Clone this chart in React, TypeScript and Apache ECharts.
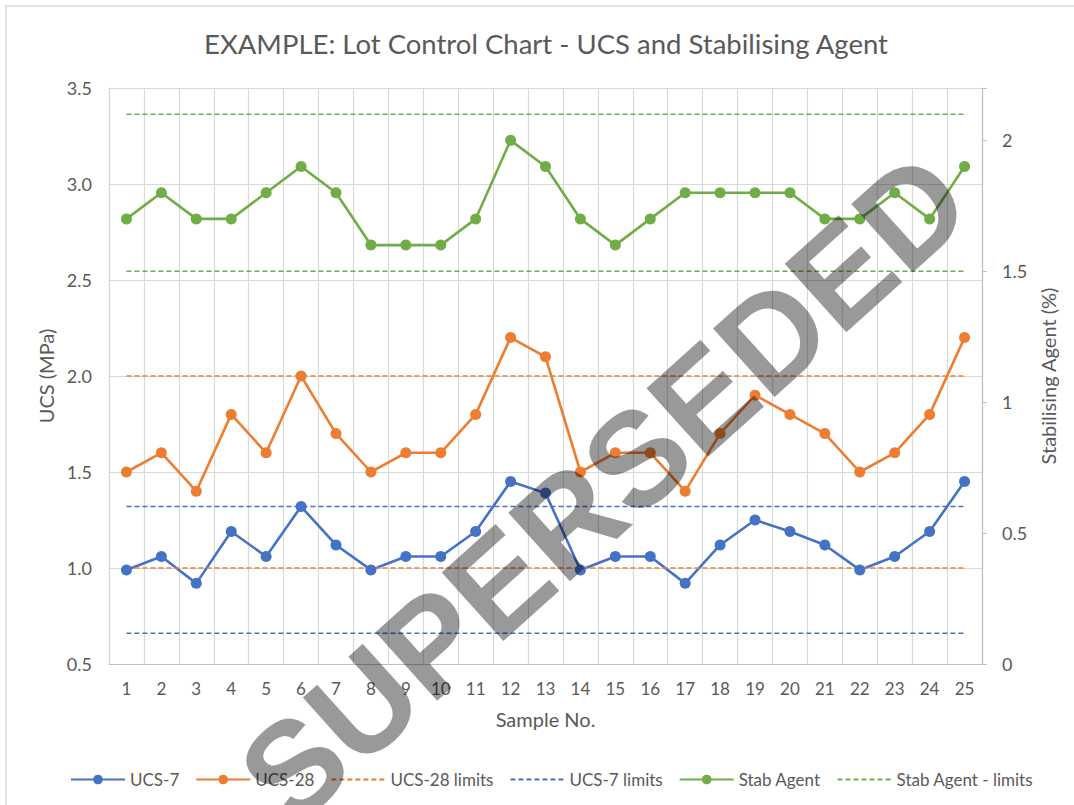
import React, { useEffect, useRef } from 'react';
import * as echarts from 'echarts';

const samples = ['1', '2', '3', '4', '5', '6', '7', '8', '9', '10', '11', '12', '13', '14', '15', '16', '17', '18', '19', '20', '21', '22', '23', '24', '25'];
const ucs7 = [0.99, 1.06, 0.92, 1.19, 1.06, 1.32, 1.12, 0.99, 1.06, 1.06, 1.19, 1.45, 1.39, 0.99, 1.06, 1.06, 0.92, 1.12, 1.25, 1.19, 1.12, 0.99, 1.06, 1.19, 1.45];
const ucs28 = [1.5, 1.6, 1.4, 1.8, 1.6, 2.0, 1.7, 1.5, 1.6, 1.6, 1.8, 2.2, 2.1, 1.5, 1.6, 1.6, 1.4, 1.7, 1.9, 1.8, 1.7, 1.5, 1.6, 1.8, 2.2];
const stabAgent = [1.7, 1.8, 1.7, 1.7, 1.8, 1.9, 1.8, 1.6, 1.6, 1.6, 1.7, 2.0, 1.9, 1.7, 1.6, 1.7, 1.8, 1.8, 1.8, 1.8, 1.7, 1.7, 1.8, 1.7, 1.9];
const ucs28Limits = [1.0, 2.0];
const ucs7Limits = [0.66, 1.32];
const stabLimits = [1.5, 2.1];
const legendNames = ['UCS-7', 'UCS-28', 'UCS-28 limits', 'UCS-7 limits', 'Stab Agent', 'Stab Agent - limits'];
const limitNames = ['UCS-28 limits', 'UCS-7 limits', 'Stab Agent - limits'];

const BLUE = '#4472C4';
const ORANGE = '#ED7D31';
const GREEN = '#70AD47';
const TEXT = '#595959';
const GRID = '#D9D9D9';
const FONT = 'Lato, "Open Sans", sans-serif';

function limitSeries(name: string, values: number[], color: string, yAxisIndex: number) {
  return values.map((v) => ({
    name,
    type: 'line',
    yAxisIndex,
    data: samples.map(() => v),
    symbol: 'none',
    silent: true,
    lineStyle: { color, width: 1.6, type: [5, 3] },
    itemStyle: { color },
  }));
}

function mainSeries(name: string, values: number[], color: string, yAxisIndex: number) {
  return {
    name,
    type: 'line',
    yAxisIndex,
    data: values,
    symbol: 'circle',
    symbolSize: 11,
    lineStyle: { color, width: 2.6 },
    itemStyle: { color },
  };
}

export default function App() {
  const ref = useRef<HTMLDivElement>(null);
  useEffect(() => {
    if (!ref.current) return;
    const chart = echarts.init(ref.current, undefined, { renderer: 'svg' });
    chart.setOption({
      animation: false,
      backgroundColor: '#ffffff',
      title: {
        text: 'EXAMPLE: Lot Control Chart - UCS and Stabilising Agent',
        left: 204,
        top: 29,
        padding: 0,
        textStyle: { color: TEXT, fontFamily: FONT, fontSize: 27.5, fontWeight: 'normal' },
      },
      legend: {
        bottom: 12,
        left: 65,
        itemWidth: 54,
        itemHeight: 12,
        itemGap: 16,
        data: legendNames.map((n) =>
          limitNames.indexOf(n) >= 0 ? { name: n, itemStyle: { opacity: 0 } } : { name: n }
        ),
        textStyle: { color: TEXT, fontFamily: FONT, fontSize: 17 },
      },
      grid: { left: 109, right: 92, top: 88, bottom: 141, containLabel: false },
      xAxis: {
        type: 'category',
        data: samples,
        boundaryGap: true,
        name: 'Sample No.',
        nameLocation: 'middle',
        nameGap: 45,
        nameTextStyle: { color: TEXT, fontFamily: FONT, fontSize: 20 },
        axisLine: { show: true, lineStyle: { color: '#BFBFBF', width: 1.2 } },
        axisTick: { show: false },
        axisLabel: { color: TEXT, fontFamily: FONT, fontSize: 17, margin: 16, interval: 0 },
        splitLine: { show: true, lineStyle: { color: GRID, width: 1.2 } },
      },
      yAxis: [
        {
          type: 'value',
          min: 0.5,
          max: 3.5,
          interval: 0.5,
          name: 'UCS (MPa)',
          nameLocation: 'middle',
          nameGap: 52,
          nameTextStyle: { color: TEXT, fontFamily: FONT, fontSize: 20 },
          axisLine: { show: true, lineStyle: { color: GRID, width: 1.2 } },
          axisTick: { show: false },
          axisLabel: {
            color: TEXT,
            fontFamily: FONT,
            fontSize: 18,
            margin: 17,
            formatter: (v: number) => v.toFixed(1),
          },
          splitLine: { show: true, lineStyle: { color: GRID, width: 1.2 } },
        },
        {
          type: 'value',
          position: 'right',
          min: 0,
          max: 2.2,
          interval: 0.5,
          name: 'Stabilising Agent (%)',
          nameLocation: 'middle',
          nameGap: 53,
          nameTextStyle: { color: TEXT, fontFamily: FONT, fontSize: 20 },
          axisLine: { show: true, lineStyle: { color: '#BFBFBF', width: 1.2 } },
          axisTick: { show: true, length: 5, lineStyle: { color: '#BFBFBF' } },
          axisLabel: {
            color: TEXT,
            fontFamily: FONT,
            fontSize: 18,
            margin: 20,
            formatter: (v: number) => (Math.abs(v * 2 - Math.round(v * 2)) < 1e-9 ? String(v) : ''),
          },
          splitLine: { show: false },
        },
      ],
      series: [
        mainSeries('UCS-7', ucs7, BLUE, 0),
        mainSeries('UCS-28', ucs28, ORANGE, 0),
        ...limitSeries('UCS-28 limits', ucs28Limits, ORANGE, 0),
        ...limitSeries('UCS-7 limits', ucs7Limits, BLUE, 0),
        mainSeries('Stab Agent', stabAgent, GREEN, 1),
        ...limitSeries('Stab Agent - limits', stabLimits, GREEN, 1),
      ],
      graphic: [
        {
          type: 'rect',
          z: 0,
          silent: true,
          shape: { x: 6, y: 6, width: 1100, height: 850 },
          style: { fill: 'none', stroke: GRID, lineWidth: 1.5 },
        },
        {
          type: 'text',
          z: 100,
          silent: true,
          x: 604,
          y: 488,
          rotation: (42 * Math.PI) / 180,
          style: {
            text: 'SUPERSEDED',
            font: 'bold 134px "Liberation Sans", Arial, sans-serif',
            fill: 'rgba(0,0,0,0.4)',
            align: 'center',
            verticalAlign: 'middle',
          },
        },
      ],
    });
    return () => chart.dispose();
  }, []);
  return <div ref={ref} style={{ position: 'fixed', left: 0, top: 0, width: 1074, height: 805 }} />;
}
